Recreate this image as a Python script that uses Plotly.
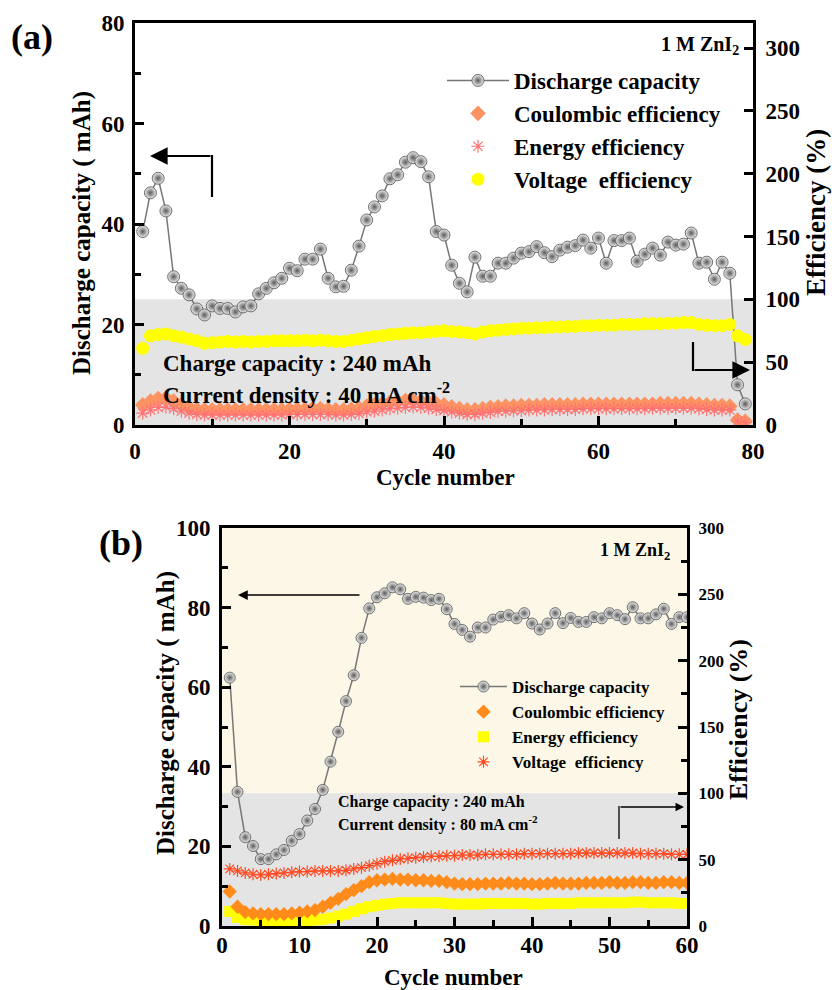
import plotly.graph_objects as go

W, H = 832, 990
FONT = "Liberation Serif"

# ---------------- data: panel (a) ----------------
cycles_a = list(range(1, 80))
cap_a = [38.5, 46.2, 49.1, 42.6, 29.5, 27.2, 25.9, 23.1, 21.9, 23.7,
         23.2, 23.2, 22.5, 23.5, 23.7, 26.1, 27.2, 28.3, 29.2, 31.2,
         30.7, 33.0, 33.0, 35.0, 29.2, 27.5, 27.6, 30.8, 35.6, 40.8,
         43.4, 45.6, 49.0, 49.8, 52.3, 53.2, 52.4, 49.4, 38.5, 37.8,
         31.8, 28.2, 26.5, 33.4, 29.6, 29.6, 32.2, 32.2, 33.2, 34.2,
         34.5, 35.5, 34.3, 33.5, 34.8, 35.4, 35.7, 36.8, 35.2, 37.2,
         32.2, 36.7, 36.7, 37.2, 32.6, 34.0, 35.2, 33.8, 36.4, 35.8,
         36.0, 38.2, 32.2, 32.4, 29.0, 32.4, 30.2, 8.0, 4.2]
ve_a = [61, 71, 72, 72.5, 71, 70, 68.5, 67, 65, 65.5,
        66, 66.5, 66, 66.5, 66, 66.5, 66.5, 67, 67, 67,
        67, 67.5, 67, 67.5, 67, 66.5, 66.5, 67.5, 68.5, 69.5,
        70.5, 71, 72, 72.5, 73, 73.5, 73.5, 74, 74.5, 75,
        74.5, 74, 73.5, 72.5, 74, 75, 75.5, 76, 76.5, 77,
        77, 77.5, 77.5, 78, 78, 78.5, 78.5, 79, 79, 79.5,
        79.5, 79.5, 80, 80, 80, 80.5, 80.5, 80.5, 81, 81,
        81.5, 81.5, 80, 79.5, 79, 79, 80, 71, 68]
ce_a = [16, 19, 21, 21.5, 19, 16, 14, 12.5, 12, 12,
        12, 12, 12, 12, 12, 12, 12, 12, 12, 12.5,
        12.5, 12.5, 13, 13, 12.5, 12, 12, 12.5, 13.5, 15,
        16, 17, 18, 19, 19.5, 19.5, 19, 18, 17, 16,
        14.5, 13, 12, 12, 13, 14, 14.5, 15, 15, 15.5,
        15.5, 15.5, 16, 16, 16, 16, 16, 16.5, 16.5, 16.5,
        16.5, 16.5, 16.5, 16.5, 16.5, 16.5, 16.5, 17, 17, 17,
        17, 17, 16.5, 16, 15.5, 15.5, 15, 4, 3]
ee_a = [9.5, 12, 14, 14.5, 13, 11, 9.5, 8.5, 8, 8,
        8, 8, 8, 8, 8, 8, 8, 8, 8, 8.5,
        8.5, 8.5, 8.5, 8.5, 8.5, 8, 8, 8.5, 9, 10.5,
        11, 12, 13, 13.5, 14, 14.5, 14, 13.5, 12.5, 11.5,
        10.5, 9.5, 8.5, 8.5, 9.5, 10, 11, 11, 11.5, 11.5,
        12, 12, 12, 12.5, 12.5, 12.5, 12.5, 13, 13, 13,
        13, 13, 13, 13, 13, 13, 13.5, 13.5, 13.5, 13.5,
        13.5, 13.5, 13, 12.5, 12, 12, 12, 3, 2]

# ---------------- data: panel (b) ----------------
cycles_b = list(range(1, 61))
cap_b = [62.4, 33.7, 22.3, 20.1, 16.8, 16.8, 18.0, 19.1, 21.4, 23.1,
         26.5, 29.4, 34.2, 41.3, 48.8, 56.5, 63.0, 72.4, 79.8, 82.6,
         83.6, 85.1, 84.6, 82.2, 82.7, 82.5, 81.9, 82.2, 79.6, 75.9,
         74.4, 72.7, 75.0, 75.0, 77.0, 77.7, 78.1, 77.3, 78.6, 76.0,
         74.5, 76.0, 78.6, 76.1, 77.4, 76.4, 76.4, 77.6, 77.3, 78.6,
         78.1, 77.1, 80.1, 77.3, 77.3, 78.3, 79.7, 75.9, 77.6, 77.6]
ve_b = [43, 41.5, 40, 39, 38.5, 39, 39.5, 40, 40.5, 41,
        41, 41.5, 41.5, 41.5, 41.5, 42, 43, 44, 45.5, 47,
        48.5, 49.5, 50.5, 51, 51.5, 52, 52.5, 52.5, 53, 53,
        53.5, 53.5, 53.5, 54, 54, 54, 54, 54, 54.5, 54.5,
        54.5, 54.5, 54.5, 54.5, 54.5, 55, 55, 55, 55, 55,
        55, 55, 55, 54.5, 54.5, 54.5, 54.5, 54, 54, 54]
ce_b = [26, 14.5, 10.5, 9.5, 9, 9, 9, 9, 9.5, 10,
        11, 12, 14.5, 17.5, 20.5, 24, 27, 30, 33, 34.5,
        35, 35.5, 35, 35, 34.5, 34.5, 34, 34, 33, 32,
        31.5, 31.5, 31.5, 32, 32, 32, 32.5, 32, 32, 31.5,
        31.5, 32, 32.5, 32, 32, 32, 32.5, 32.5, 32.5, 33,
        32.5, 32.5, 33, 33, 32.5, 32.5, 33, 33, 32.5, 32.5]
ee_b = [11, 6.5, 5, 4.5, 4, 4, 4, 4, 4, 4,
        4, 4.5, 5, 6, 7.5, 9, 11, 13, 14.5, 15.5,
        16.5, 17, 17.5, 17.5, 17.5, 17.5, 17.5, 17.5, 17, 16.5,
        16.5, 16.5, 16.5, 17, 17, 17, 17, 17, 17, 16.5,
        16.5, 17, 17, 17, 17, 17.5, 17.5, 17.5, 17.5, 17.5,
        17.5, 17.5, 18, 18, 17.5, 17.5, 17.5, 17.5, 17, 17]

names = ["Discharge capacity", "Coulombic efficiency", "Energy efficiency",
         "Voltage\u00a0 efficiency"]


def px(x):
    return x / W


def py(y):
    return 1 - y / H


ball = lambda size: dict(symbol="circle", size=size, color="#eeeeee",
                         gradient=dict(type="radial", color="#5a5a5a"),
                         line=dict(color="#505050", width=0.8))

fig = go.Figure()

# ---- panel (a) traces ----
fig.add_trace(go.Scatter(x=cycles_a, y=ve_a, xaxis="x", yaxis="y2", mode="markers",
                         name=names[3], legend="legend", legendrank=4, legendgroup="a4",
                         marker=dict(symbol="circle", size=13, color="#ffff00")))
fig.add_trace(go.Scatter(x=cycles_a, y=ce_a, xaxis="x", yaxis="y2", mode="markers",
                         name=names[1], legend="legend", legendrank=2, legendgroup="a2",
                         marker=dict(symbol="diamond", size=12, color="#fc9362")))
fig.add_trace(go.Scatter(x=cycles_a, y=ee_a, xaxis="x", yaxis="y2", mode="markers",
                         name=names[2], legend="legend", legendrank=3, legendgroup="a3",
                         marker=dict(symbol="asterisk-open", size=11, color="#ff7373",
                                     line=dict(color="#ff7373", width=1.2))))
fig.add_trace(go.Scatter(x=cycles_a, y=cap_a, xaxis="x", yaxis="y", mode="lines+markers",
                         name=names[0], legend="legend", legendrank=1, legendgroup="a1",
                         line=dict(color="#777777", width=1.5), marker=ball(12)))

# ---- panel (b) traces ----
fig.add_trace(go.Scatter(x=cycles_b, y=ee_b, xaxis="x2", yaxis="y4", mode="markers",
                         name="Energy efficiency", legend="legend2", legendrank=3, legendgroup="b3",
                         marker=dict(symbol="square", size=11, color="#ffff00")))
fig.add_trace(go.Scatter(x=cycles_b, y=ce_b, xaxis="x2", yaxis="y4", mode="markers",
                         name="Coulombic efficiency", legend="legend2", legendrank=2, legendgroup="b2",
                         marker=dict(symbol="diamond", size=11, color="#ff8c1a")))
fig.add_trace(go.Scatter(x=cycles_b, y=ve_b, xaxis="x2", yaxis="y4", mode="markers",
                         name="Voltage\u00a0 efficiency", legend="legend2", legendrank=4, legendgroup="b4",
                         marker=dict(symbol="asterisk-open", size=10, color="#ff4a22",
                                     line=dict(color="#ff4a22", width=1.2))))
fig.add_trace(go.Scatter(x=cycles_b, y=cap_b, xaxis="x2", yaxis="y3", mode="lines+markers",
                         name="Discharge capacity", legend="legend2", legendrank=1, legendgroup="b1",
                         line=dict(color="#777777", width=1.5), marker=ball(11)))

tick_font = dict(family=FONT, size=23, color="black", weight="bold")
axcommon = dict(showgrid=False, zeroline=False, showline=True, linecolor="black",
                linewidth=3, ticks="inside", tickwidth=2.5, ticklen=9,
                tickcolor="black", tickfont=tick_font, automargin=False)
minor_style = dict(ticks="inside", ticklen=6, tickwidth=2.5, tickcolor="black", showgrid=False)

fig.update_layout(
    template="none",
    width=W, height=H, margin=dict(l=0, r=0, t=0, b=0, pad=0), autosize=False,
    paper_bgcolor="white", plot_bgcolor="rgba(0,0,0,0)",
    font=dict(family=FONT, color="black"),
    xaxis=dict(domain=[px(135), px(753)], anchor="y", range=[0, 80], mirror=True,
               tickvals=[0, 20, 40, 60, 80],
               minor=dict(tickvals=[10, 30, 50, 70], **minor_style),
               ticklabelstandoff=3, **axcommon),
    yaxis=dict(domain=[py(425), py(23)], anchor="x", range=[0, 80], mirror=True,
               tickvals=[0, 20, 40, 60, 80],
               minor=dict(tickvals=[10, 30, 50, 70], **minor_style),
               ticklabelstandoff=3, **axcommon),
    yaxis2=dict(overlaying="y", side="right", anchor="x", range=[0, 320],
                tickvals=[0, 50, 100, 150, 200, 250, 300], ticklabelstandoff=5,
                **axcommon),
    xaxis2=dict(domain=[px(222), px(687)], anchor="y3", range=[0, 60], mirror=True,
                tickvals=[0, 10, 20, 30, 40, 50, 60],
                minor=dict(tickvals=[5, 15, 25, 35, 45, 55], **minor_style),
                ticklabelstandoff=-4, **axcommon),
    yaxis3=dict(domain=[py(926), py(528)], anchor="x2", range=[0, 100], mirror=True,
                tickvals=[0, 20, 40, 60, 80, 100],
                minor=dict(tickvals=[10, 30, 50, 70, 90], **minor_style),
                ticklabelstandoff=4, **axcommon),
    yaxis4=dict(overlaying="y3", side="right", anchor="x2", range=[0, 300],
                tickvals=[0, 50, 100, 150, 200, 250, 300],
                minor=dict(tickvals=[25, 75, 125, 175, 225, 275], **minor_style),
                ticklabelstandoff=5,
                **{**axcommon, "tickfont": dict(family=FONT, size=17, color="black", weight="bold")}),
    legend=dict(x=px(442), y=py(59), xanchor="left", yanchor="top",
                bgcolor="rgba(0,0,0,0)", borderwidth=0, itemwidth=62,
                tracegroupgap=0, traceorder="grouped",
                font=dict(family=FONT, size=23, color="black", weight="bold")),
    legend2=dict(x=px(455), y=py(669), xanchor="left", yanchor="top",
                 bgcolor="rgba(0,0,0,0)", borderwidth=0, itemwidth=47,
                 tracegroupgap=0, traceorder="grouped",
                 font=dict(family=FONT, size=17, color="black", weight="bold")),
)

# background shading
fig.add_shape(type="rect", xref="x", yref="y", x0=0, x1=80, y0=0, y1=25,
              fillcolor="#e4e4e4", line_width=0, layer="below")
fig.add_shape(type="rect", xref="x2", yref="y3", x0=0, x1=60, y0=0, y1=100,
              fillcolor="#fdf7e7", line_width=0, layer="below")
fig.add_shape(type="rect", xref="x2", yref="y3", x0=0, x1=60, y0=0, y1=100 / 3,
              fillcolor="#e4e4e4", line_width=0, layer="below")

ann = []


def text(x, y, s, size, xanchor="center", angle=0, yanchor="middle"):
    ann.append(dict(x=px(x), y=py(y), xref="paper", yref="paper", text=s, showarrow=False,
                    xanchor=xanchor, yanchor=yanchor, textangle=angle,
                    font=dict(family=FONT, size=size, color="black", weight="bold")))


text(32, 37, "(a)", 36)
text(121, 543, "(b)", 36)
text(82, 233, "Discharge capacity ( mAh)", 25, angle=-90)
text(816, 213, "Efficiency (%)", 27, angle=-90)
text(445, 477, "Cycle number", 23)
text(166, 713, "Discharge capacity ( mAh)", 25, angle=-90)
text(738, 720, "Efficiency (%)", 26, angle=-90)
text(453, 977, "Cycle number", 23)
text(741, 46, "1 M ZnI<sub>2</sub>", 20, xanchor="right")
text(672, 551, "1 M ZnI<sub>2</sub>", 18, xanchor="right")
text(161, 363, "Charge capacity : 240 mAh", 23, xanchor="left")
text(161, 393, "Current density : 40 mA cm<sup>-2</sup>", 23, xanchor="left")
text(336, 802, "Charge capacity : 240 mAh", 16, xanchor="left")
text(336, 823, "Current density : 80 mA cm<sup>-2</sup>", 16, xanchor="left")


def arrow(tipx, tipy, tailx, taily, width, size):
    ann.append(dict(x=px(tipx), y=py(tipy), xref="paper", yref="paper",
                    ax=tailx - tipx, ay=taily - tipy, axref="pixel", ayref="pixel",
                    text="", showarrow=True, arrowhead=2, arrowsize=size,
                    arrowwidth=width, arrowcolor="black"))


arrow(150, 156, 212, 156, 2.2, 1.6)
arrow(750, 370, 693, 370, 2.2, 1.6)
arrow(238, 595, 361, 595, 1.5, 1.3)
arrow(684, 807, 619, 807, 1.3, 1.3)

fig.update_layout(annotations=ann)


def seg(x0, y0, x1, y1, w):
    fig.add_shape(type="line", xref="paper", yref="paper", x0=px(x0), y0=py(y0),
                  x1=px(x1), y1=py(y1), line=dict(color="black", width=w))


seg(212, 155, 212, 197, 2.2)
seg(693, 342, 693, 371, 2.2)
seg(619, 806, 619, 839, 1.3)

fig.write_html("out.html")
